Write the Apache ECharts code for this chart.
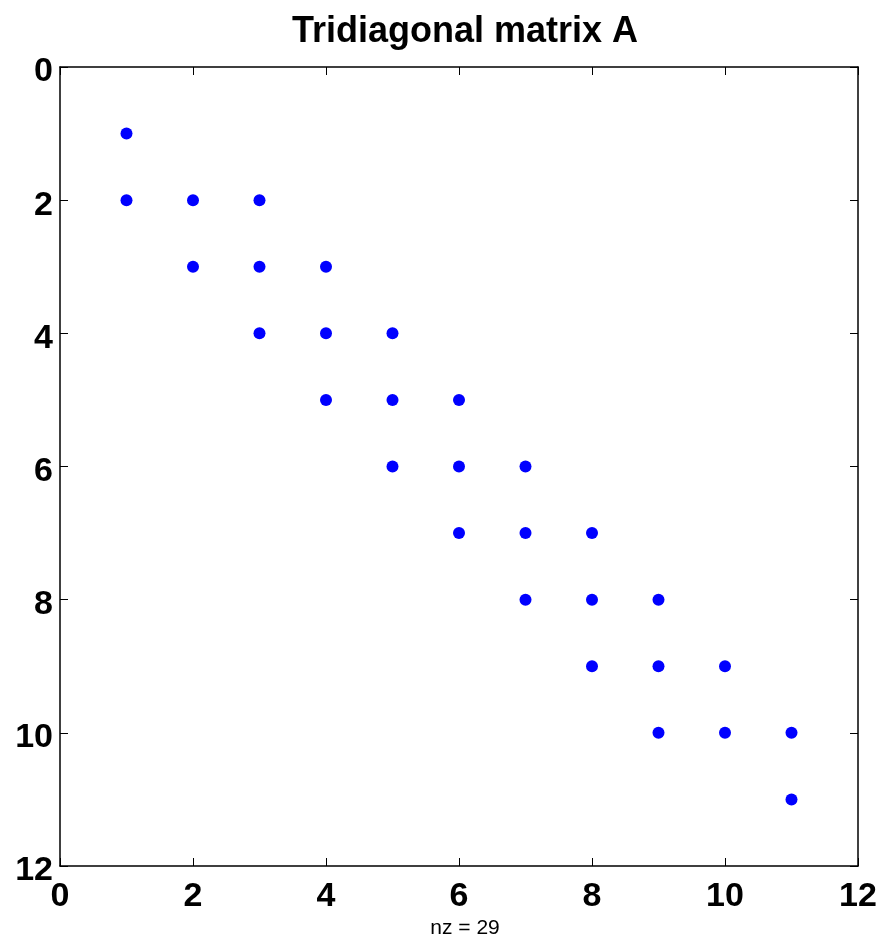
<!DOCTYPE html>
<html>
<head>
<meta charset="utf-8">
<script src="https://cdn.jsdelivr.net/npm/echarts@6/dist/echarts.min.js"></script>
<style>
    html, body { margin: 0; padding: 0; background: #fff; }
    #chart { width: 883px; height: 940px; }
</style>
</head>
<body>
<div id="chart"></div>
<script>
    // nonzero entries of A: column index and row index
    var cols = [1, 1, 2, 3, 2, 3, 4, 3, 4, 5, 4, 5, 6, 5, 6, 7, 6, 7, 8, 7, 8, 9, 8, 9, 10, 9, 10, 11, 11];
    var rows = [1, 2, 2, 2, 3, 3, 3, 4, 4, 4, 5, 5, 5, 6, 6, 6, 7, 7, 7, 8, 8, 8, 9, 9, 9, 10, 10, 10, 11];
    var axisTicks = [0, 2, 4, 6, 8, 10, 12];
    var titleText = 'Tridiagonal matrix A';
    var nzText = 'nz = 29';

    var points = [];
    for (var i = 0; i < cols.length; i++) {
        points.push([cols[i], rows[i]]);
    }

    var chart = echarts.init(document.getElementById('chart'));
    var fontFam = '"Liberation Sans", Arial, sans-serif';
    var line = { show: true, onZero: false, lineStyle: { color: '#000', width: 1.5 } };
    var tick = { show: true, inside: true, length: 8, lineStyle: { color: '#000', width: 1 } };
    var numStyle = { fontFamily: fontFam, fontSize: 34, fontWeight: 'bold', color: '#000' };

    var option = {
        animation: false,
        backgroundColor: '#fff',
        title: [{
            text: titleText,
            left: 460,
            textAlign: 'center',
            top: 9,
            textStyle: { fontFamily: fontFam, fontSize: 36, fontWeight: 'bold', color: '#000' }
        }, {
            text: nzText,
            left: 460,
            textAlign: 'center',
            top: 913,
            textStyle: { fontFamily: fontFam, fontSize: 21, fontWeight: 'normal', color: '#000' }
        }],
        grid: { left: 60, top: 67, width: 798, height: 799, containLabel: false },
        xAxis: [{
            type: 'value', min: 0, max: 12, interval: 2, position: 'bottom',
            axisLine: line, axisTick: tick, splitLine: { show: false },
            axisLabel: Object.assign({
                margin: 14,
                formatter: function (v) { return axisTicks.indexOf(v) >= 0 ? String(v) : ''; }
            }, numStyle)
        }, {
            type: 'value', min: 0, max: 12, interval: 2, position: 'top',
            axisLine: line, axisTick: tick, splitLine: { show: false },
            axisLabel: { show: false }
        }],
        yAxis: [{
            type: 'value', min: 0, max: 12, interval: 2, inverse: true, position: 'left',
            axisLine: line, axisTick: tick, splitLine: { show: false },
            axisLabel: {
                margin: 7,
                formatter: function (v) { return axisTicks.indexOf(v) >= 0 ? '{n|' + v + '}' : ''; },
                rich: { n: Object.assign({ padding: [10, 0, 0, 0] }, numStyle) }
            }
        }, {
            type: 'value', min: 0, max: 12, interval: 2, inverse: true, position: 'right',
            axisLine: line, axisTick: tick, splitLine: { show: false },
            axisLabel: { show: false }
        }],
        series: [{
            type: 'scatter',
            xAxisIndex: 0,
            yAxisIndex: 0,
            symbol: 'circle',
            symbolSize: 12,
            itemStyle: { color: '#0000ff', opacity: 1 },
            data: points
        }]
    };
    chart.setOption(option);
</script>
</body>
</html>
